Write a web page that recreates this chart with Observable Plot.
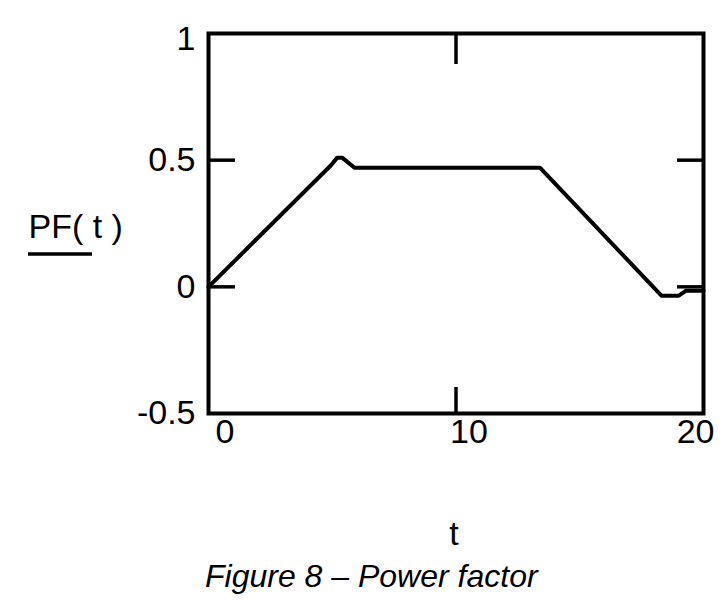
<!DOCTYPE html>
<html>
<head>
<meta charset="utf-8">
<script src="https://cdn.jsdelivr.net/npm/d3@7"></script>
<script src="https://cdn.jsdelivr.net/npm/@observablehq/plot@0.6"></script>
<style>
  html, body { margin: 0; padding: 0; background: #fff; }
  #wrap { position: relative; width: 725px; height: 614px; font-family: "Liberation Sans", Arial, sans-serif; }
  #caption { position: absolute; left: 205px; top: 558px; font-size: 32px; line-height: 36px; font-style: italic; color: #000; white-space: nowrap; }
</style>
</head>
<body>
<div id="wrap"><div id="chart"></div><div id="caption"></div></div>
<script>
// --- data ---
const tValues  = [0, 4.95, 5.2, 5.4, 5.9, 13.4, 18.3, 19.0, 19.3, 20];
const pfValues = [0, 0.48, 0.51, 0.51, 0.47, 0.47, -0.035, -0.035, -0.015, -0.015];
const xTicks = [0, 10, 20];
const yTicks = [-0.5, 0, 0.5];
const yTopTick = [1];
const innerYTicks = [0, 0.5];
const innerXTicks = [10];
const yTitle = "PF( t )";
const xTitle = "t";
const captionText = "Figure 8 \u2013 Power factor";

const data = tValues.map((t, i) => ({t, pf: pfValues[i]}));

const font = "Liberation Sans, Arial, sans-serif";

// legend sample line under the y title (custom render mark)
const legendLine = (index, scales, values, dims) => {
  const line = document.createElementNS("http://www.w3.org/2000/svg", "line");
  line.setAttribute("x1", 28); line.setAttribute("x2", 92);
  line.setAttribute("y1", 254); line.setAttribute("y2", 254);
  line.setAttribute("stroke", "black"); line.setAttribute("stroke-width", 3.5);
  return line;
};

const plot = Plot.plot({
  width: 725,
  height: 560,
  marginLeft: 208,
  marginRight: 22,
  marginTop: 33,
  marginBottom: 147,
  style: {fontFamily: font, fontSize: "34px", color: "black", background: "transparent", overflow: "visible"},
  x: {domain: [0, 20]},
  y: {domain: [-0.5, 1]},
  marks: [
    // y labels
    Plot.axisY({ticks: yTicks, tickSize: 0, tickPadding: 13, fontSize: 34, tickFormat: d => String(d), label: null}),
    Plot.axisY({ticks: yTopTick, tickSize: 0, tickPadding: 13, dy: 6, fontSize: 34, tickFormat: d => String(d), label: null}),
    // inner ticks
    Plot.axisY({anchor: "left", ticks: innerYTicks, tickSize: -27, strokeWidth: 3.5, tickFormat: () => "", label: null}),
    Plot.axisY({anchor: "right", ticks: innerYTicks, tickSize: -27, strokeWidth: 3.5, tickFormat: () => "", label: null}),
    Plot.axisX({anchor: "bottom", ticks: innerXTicks, tickSize: -26, strokeWidth: 3.5, tickFormat: () => "", label: null}),
    Plot.axisX({anchor: "top", ticks: innerXTicks, tickSize: -30, strokeWidth: 3.5, tickFormat: () => "", label: null}),
    // x labels
    Plot.text(xTicks.slice(0, 1), {x: d => d, frameAnchor: "bottom", dy: 29, dx: 7, textAnchor: "start", fontSize: 34}),
    Plot.text(xTicks.slice(1, -1), {x: d => d, frameAnchor: "bottom", dy: 29, dx: 13, textAnchor: "middle", fontSize: 34}),
    Plot.text(xTicks.slice(-1), {x: d => d, frameAnchor: "bottom", dy: 29, dx: 11, textAnchor: "end", fontSize: 34}),
    // titles
    Plot.text([xTitle], {text: d => d, frameAnchor: "bottom", dy: 131, dx: -2, fontSize: 34}),
    Plot.text([yTitle], {text: d => d, frameAnchor: "left", dx: -180, dy: 4, textAnchor: "start", fontSize: 34}),
    legendLine,
    // frame & curve
    Plot.frame({stroke: "black", strokeWidth: 4}),
    Plot.line(data, {x: "t", y: "pf", stroke: "black", strokeWidth: 4, strokeLinejoin: "round"})
  ]
});
document.getElementById("chart").appendChild(plot);
document.getElementById("caption").textContent = captionText;
</script>
</body>
</html>
